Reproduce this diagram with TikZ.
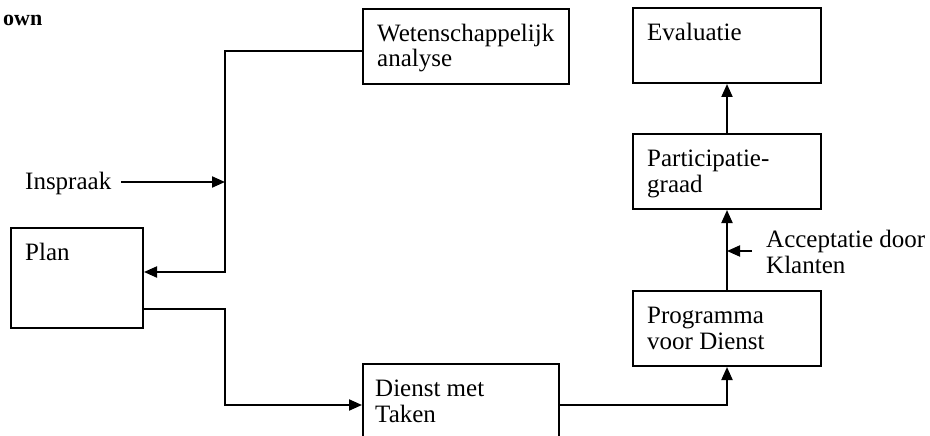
\documentclass[tikz,border=0pt]{standalone}
\usepackage{fontspec}
\setmainfont{Liberation Serif}
\usetikzlibrary{arrows.meta}

\tikzset{
  box/.style={draw, line width=2pt, anchor=north west, inner sep=0pt},
  boxtext/.style={anchor=base west, inner sep=0pt, align=left, font=\fontsize{25}{25.5}\selectfont},
  arr/.style={line width=2pt, -{Triangle[length=13pt, width=11pt]}}
}

\begin{document}
\begin{tikzpicture}[x=1pt, y=-1pt]
    \clip (0,0) rectangle (930,436);

    % cut-off heading
    \node[anchor=base west, inner sep=0pt, font=\fontsize{22}{24}\selectfont\bfseries] (head) at (3,26) {own};

    % draw boxes
    \node[box, minimum width=206, minimum height=75] (wet) at (362,8) {};
    \node[box, minimum width=132, minimum height=100] (plan) at (10,227) {};
    \node[box, minimum width=196, minimum height=82] (dienst) at (362,363) {};
    \node[box, minimum width=188, minimum height=75] (eval) at (632,7) {};
    \node[box, minimum width=188, minimum height=75] (part) at (632,133) {};
    \node[box, minimum width=188, minimum height=75] (prog) at (632,290) {};

    % box texts (base = last line)
    \node[boxtext] (wettext) at ([shift={(15,59)}]wet.north west) {Wetenschappelijk\\analyse};
    \node[boxtext] (plantext) at ([shift={(15,33.5)}]plan.north west) {Plan};
    \node[boxtext] (diensttext) at ([shift={(13,59)}]dienst.north west) {Dienst met\\Taken};
    \node[boxtext] (evaltext) at ([shift={(15,33.5)}]eval.north west) {Evaluatie};
    \node[boxtext] (parttext) at ([shift={(15,59)}]part.north west) {Participatie-\\graad};
    \node[boxtext] (progtext) at ([shift={(15,59)}]prog.north west) {Programma\\voor Dienst};

    % side inputs
    \node[boxtext] (insp) at (25,189) {Inspraak};
    \node[boxtext] (acc) at (766,273) {Acceptatie door\\Klanten};

    % draw connectors
    \coordinate (bus) at (225,182);
    \coordinate (turn) at (225,350);
    \coordinate (accin) at (752,251);
    \draw[arr] ([yshift=-4.5pt]wet.west) -| (bus) |- ([yshift=6pt]plan.east);
    \draw[arr] ([xshift=10pt]insp.east |- bus) -- (bus);
    \draw[arr] ([yshift=-31pt]plan.east) -| (turn) |- (dienst.west);
    \draw[arr] (dienst.east) -| (prog.south);
    \draw[arr] (prog.north) -- (part.south);
    \draw[arr] (part.north) -- (eval.south);
    \draw[arr] (accin) -- (prog.north |- accin);

\end{tikzpicture}
\end{document}
